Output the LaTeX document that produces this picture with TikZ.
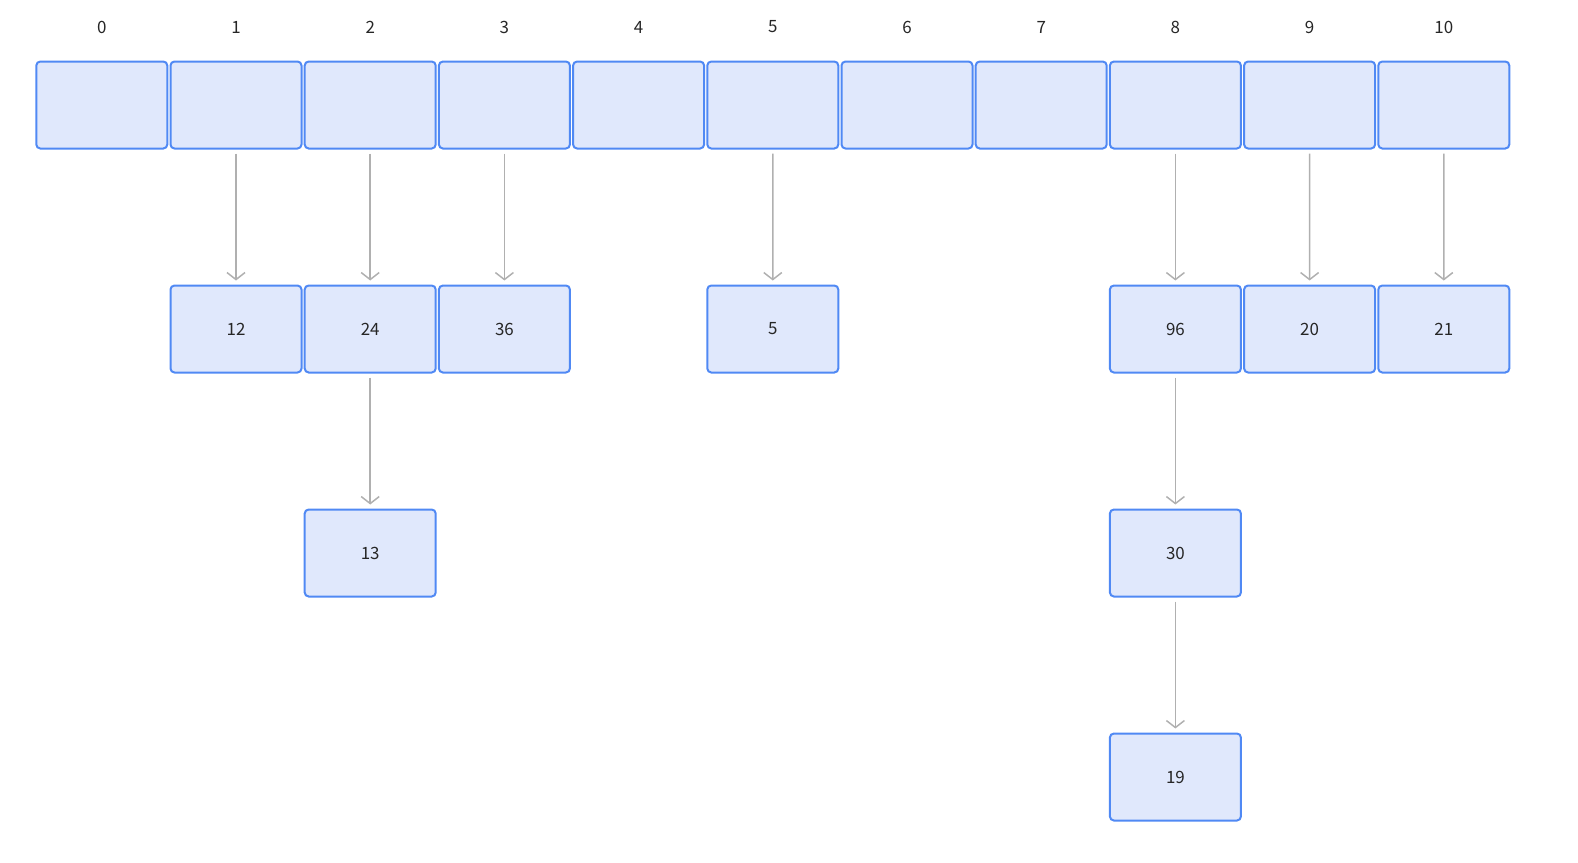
\documentclass[tikz,border=0pt]{standalone}
\usepackage{fontspec}
\setmainfont{Noto Sans CJK SC}
\usetikzlibrary{arrows.meta}
\definecolor{cellfill}{HTML}{E0E8FC}
\definecolor{celldraw}{HTML}{5089F4}
\definecolor{linkgray}{HTML}{B0B0B0}
\begin{document}
\begin{tikzpicture}
  [x=0.5bp,y=-0.5bp,every node/.style={font=\fontsize{8.5}{10}\selectfont,text=black!85}]
  \tikzstyle{cell} = [draw=celldraw,fill=cellfill,line width=1bp,rounded corners=2bp,
                      minimum width=65.5bp,minimum height=43.5bp,inner sep=0pt]
  \tikzstyle{link} = [draw=linkgray,line width=0.75bp,shorten <=2bp,shorten >=2bp,
                      -{Straight Barb[length=3.5bp,width=9bp]}]
  \useasboundingbox (0,0) rectangle (1578,862);
  % buckets and their indices
  \foreach \i in {0,...,10} {
    \node[cell] (b\i) at (101.8+134.2*\i,105) {};
    \node (i\i) at (101.8+134.2*\i,27) {\i};
  }
  % chained entries
  \node[cell] (n12) at (236,329) {12};
  \node[cell] (n24) at (370.2,329) {24};
  \node[cell] (n36) at (504.4,329) {36};
  \node[cell] (n5)  at (772.8,329) {5};
  \node[cell] (n96) at (1175.4,329) {96};
  \node[cell] (n20) at (1309.6,329) {20};
  \node[cell] (n21) at (1443.8,329) {21};
  \node[cell] (n13) at (370.2,553) {13};
  \node[cell] (n30) at (1175.4,553) {30};
  \node[cell] (n19) at (1175.4,777) {19};

\foreach \source /\dest in {b1/n12,b2/n24,b3/n36,b5/n5,b8/n96,b9/n20,b10/n21}
   \draw[link] (\source) -- (\dest);
\foreach \source /\dest in {n24/n13,n96/n30,n30/n19}
   \draw[link] (\source) -- (\dest);
\end{tikzpicture}
\end{document}
